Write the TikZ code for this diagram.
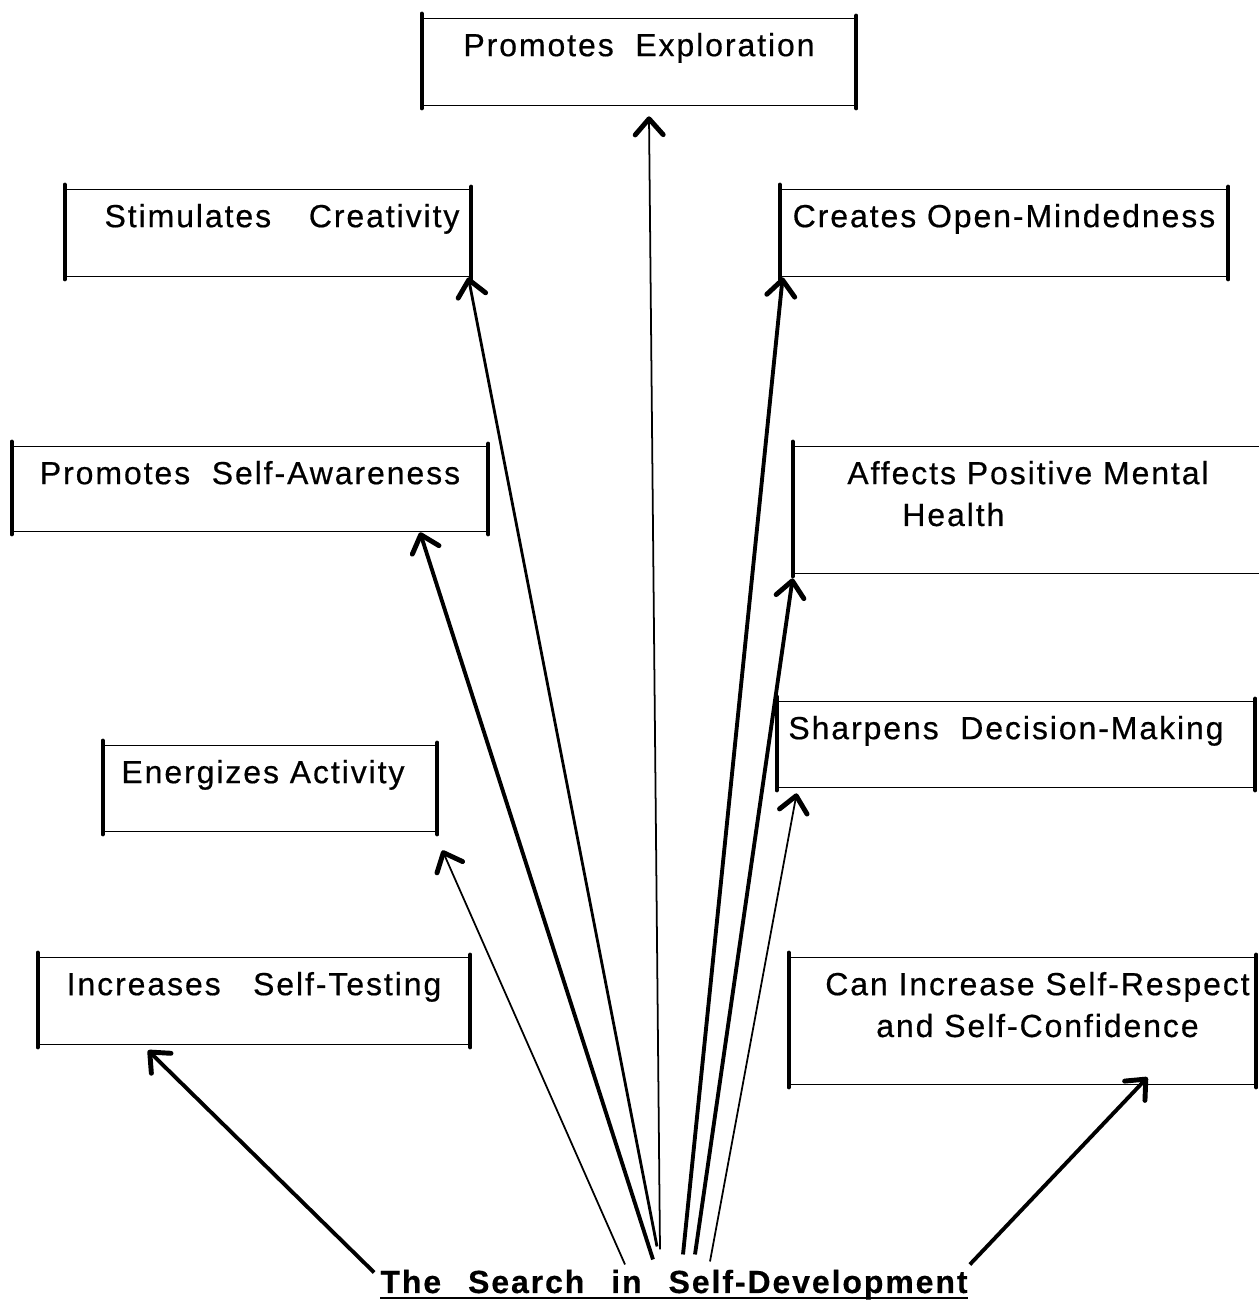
\documentclass[tikz,border=0pt]{standalone}
\usepackage{fontspec}
\setmainfont{Liberation Sans}[LetterSpace=6.0, FakeBold=0.5]
\usetikzlibrary{arrows.meta}

\begin{document}
\begin{tikzpicture}[font=\fontsize{18.2pt}{23.8pt}\selectfont,
  card/.style={inner sep=0pt, minimum height=1.72cm},
  cardtext/.style={anchor=north, yshift=-0.28cm, inner sep=0pt, align=center},
  rim/.style={line width=0.85pt},
  side/.style={line width=2.3pt, line cap=round},
  link/.style={-{Straight Barb[length=3.2mm,width=5.6mm,line width=2.8pt,round]}, line width=1pt},
  midlink/.style={link, line width=1.6pt},
  heavy/.style={link, line width=2.2pt}]
  \useasboundingbox (0,0) rectangle (25.18,26);

  % boxes
  \node[card, minimum width=8.68cm, label={[cardtext]north:{Promotes~~Exploration}}] (explore) at (12.78,24.76) {};
  \node[card, minimum width=8.12cm, label={[cardtext, xshift=0.28cm]north:{Stimulates~~~\,Creativity}}] (create) at (5.36,21.34) {};
  \node[card, minimum width=8.96cm, label={[cardtext]north:{Creates Open-Mindedness}}] (open) at (20.08,21.34) {};
  \node[card, minimum width=9.52cm, minimum height=1.68cm, label={[cardtext]north:{Promotes~~Self-Awareness}}] (aware) at (5.0,16.22) {};
  \node[card, minimum width=9.4cm, minimum height=2.52cm, label={[cardtext, align=left]north:{Affects Positive Mental\\\hspace*{1.1cm}Health}}] (mental) at (20.56,15.8) {};
  \node[card, minimum width=9.56cm, minimum height=1.7cm, label={[cardtext, xshift=-0.2cm]north:{Sharpens~~Decision-Making}}] (decide) at (20.32,11.11) {};
  \node[card, minimum width=6.68cm, minimum height=1.7cm, label={[cardtext, xshift=-0.14cm]north:{Energizes Activity}}] (energy) at (5.4,10.23) {};
  \node[card, minimum width=8.64cm, label={[cardtext]north:{Increases~~~Self-Testing}}] (test) at (5.08,5.98) {};
  \node[card, minimum width=9.34cm, minimum height=2.52cm, label={[cardtext, xshift=0.3cm]north:{Can Increase Self-Respect\\and Self-Confidence}}] (respect) at (20.45,5.58) {};

  \node[inner sep=0pt, anchor=base] (title) at (13.48,0.14) {\bfseries The~~\,Search~~\,in~~\,Self-Development};
  \draw[line width=1.7pt] ([yshift=-0.1cm]title.base west) -- ([yshift=-0.1cm]title.base east);

  \foreach \b in {explore,create,open,aware,mental,decide,energy,test,respect} {
    \draw[rim] (\b.north west) -- (\b.north east) (\b.south west) -- (\b.south east);
    \draw[side] ([yshift=0.1cm]\b.north west) -- ([yshift=-0.06cm]\b.south west)
                ([yshift=0.06cm]\b.north east) -- ([yshift=-0.06cm]\b.south east);
  }

  % arrows
  \draw[link] ([xshift=-0.98cm,yshift=0.1cm]title.north) -- ([xshift=0.1cm,yshift=-0.38cm]energy.south east);
  \draw[heavy] ([xshift=-0.42cm,yshift=0.2cm]title.north) -- ([xshift=3.4cm,yshift=-0.02cm]aware.south);
  \draw[midlink] ([xshift=-0.34cm,yshift=0.46cm]title.north) -- ([xshift=-0.06cm,yshift=-0.02cm]create.south east);
  \draw[link] ([xshift=-0.28cm,yshift=0.4cm]title.north) -- ([xshift=0.2cm,yshift=-0.22cm]explore.south);
  \draw[heavy] ([xshift=0.18cm,yshift=0.3cm]title.north) -- ([xshift=0.06cm,yshift=-0.02cm]open.south west);
  \draw[heavy] ([xshift=0.42cm,yshift=0.3cm]title.north) -- ([yshift=-0.1cm]mental.south west);
  \draw[link] ([xshift=0.72cm,yshift=0.16cm]title.north) -- ([xshift=0.4cm,yshift=-0.12cm]decide.south west);
  \draw[heavy] ([xshift=-0.12cm,yshift=-0.06cm]title.north west) -- ([xshift=-2.12cm,yshift=-0.12cm]test.south);
  \draw[heavy] ([xshift=0.04cm,yshift=0.1cm]title.north east) -- ([xshift=2.5cm,yshift=0.14cm]respect.south);
\end{tikzpicture}
\end{document}
